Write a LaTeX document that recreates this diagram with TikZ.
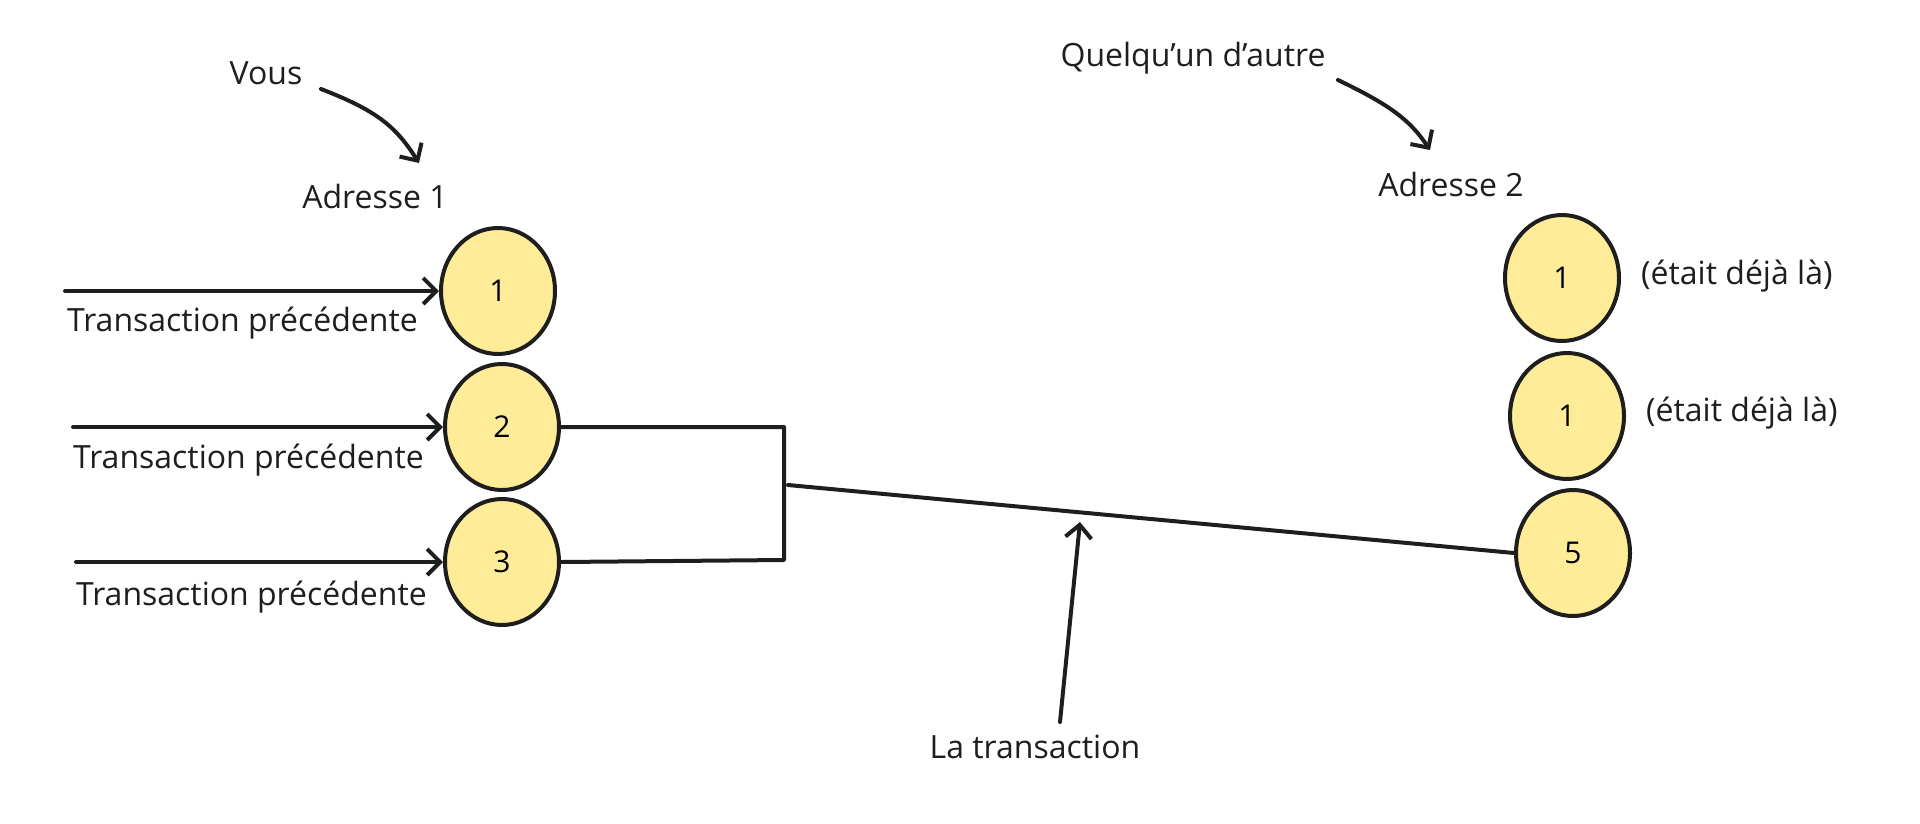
\documentclass[tikz,border=0pt]{standalone}
\usepackage{fontspec}
\setmainfont{Open Sans}
\usepackage{xcolor}
\usepackage{tikz}
\usetikzlibrary{arrows.meta,shapes.geometric,positioning}
\definecolor{ink}{HTML}{1E1E1E}
\definecolor{coin}{HTML}{FFEC99}
\tikzset{
  Coin/.style={
    ellipse, draw=ink, line width=4pt, fill=coin,
    minimum width=114pt, minimum height=126pt, inner sep=0pt,
    font=\fontsize{30}{36}\selectfont
  },
  Note/.style={text=ink, inner sep=0pt, font=\fontsize{32}{38}\selectfont},
  Flow/.style={
    draw=ink, line width=4pt,
    -{Straight Barb[length=13pt,width=26pt]}
  },
  Wire/.style={draw=ink, line width=4pt}
}

\begin{document}
\begin{tikzpicture}[x=1pt, y=-1pt, line cap=round, line join=round]
  \useasboundingbox (0,0) rectangle (1920,823);

  % inputs of address 1
  \node[Coin] (a1) at (498,291) {1};
  \node[Coin] (a2) at (502,427) {2};
  \node[Coin] (a3) at (502,562) {3};

  % outputs at address 2
  \node[Coin] (b1) at (1562,278) {1};
  \node[Coin] (b2) at (1567,416) {1};
  \node[Coin] (b5) at (1573,553) {5};

  \node[Note] (vous) at (266,73) {Vous};
  \node[Note] (adr1) at (375,196) {Adresse 1};
  \node[Note] (autre) at (1193,58) {Quelqu'un d'autre};
  \node[Note] (adr2) at (1451,184) {Adresse 2};
  \node[Note, anchor=west] (p1) at (67,323) {Transaction précédente};
  \node[Note, anchor=west] (p2) at (73,460) {Transaction précédente};
  \node[Note, anchor=west] (p3) at (76,597) {Transaction précédente};
  \node[Note, anchor=west] (deja1) at (1641,276) {(était déjà là)};
  \node[Note, anchor=west] (deja2) at (1646,413) {(était déjà là)};
  \node[Note] (tx) at (1035,747) {La transaction};

  \coordinate (s1) at (65,291);
  \coordinate (s2) at (73,427);
  \coordinate (s3) at (76,562);
  \coordinate (j2) at (784,427);
  \coordinate (j3) at (784,560);
  \coordinate (jm) at (788,485);
  \coordinate (tip) at (1080,522);

  \draw[Flow] (s1) -- (a1.west);
  \draw[Flow] (s2) -- (a2.west);
  \draw[Flow] (s3) -- (a3.west);

  % the transaction itself
  \draw[Wire] (a2.east) -- (j2) -- (j3) -- (a3.east);
  \draw[Wire] (jm) -- (b5.west);
  \draw[Flow] (1060,722) -- (tip);

  % who owns what
  \draw[Flow] (321,89) .. controls (375,110) and (395,125) .. (419,163);
  \draw[Flow] (1338,80) .. controls (1390,105) and (1410,120) .. (1430,150);
\end{tikzpicture}
\end{document}
